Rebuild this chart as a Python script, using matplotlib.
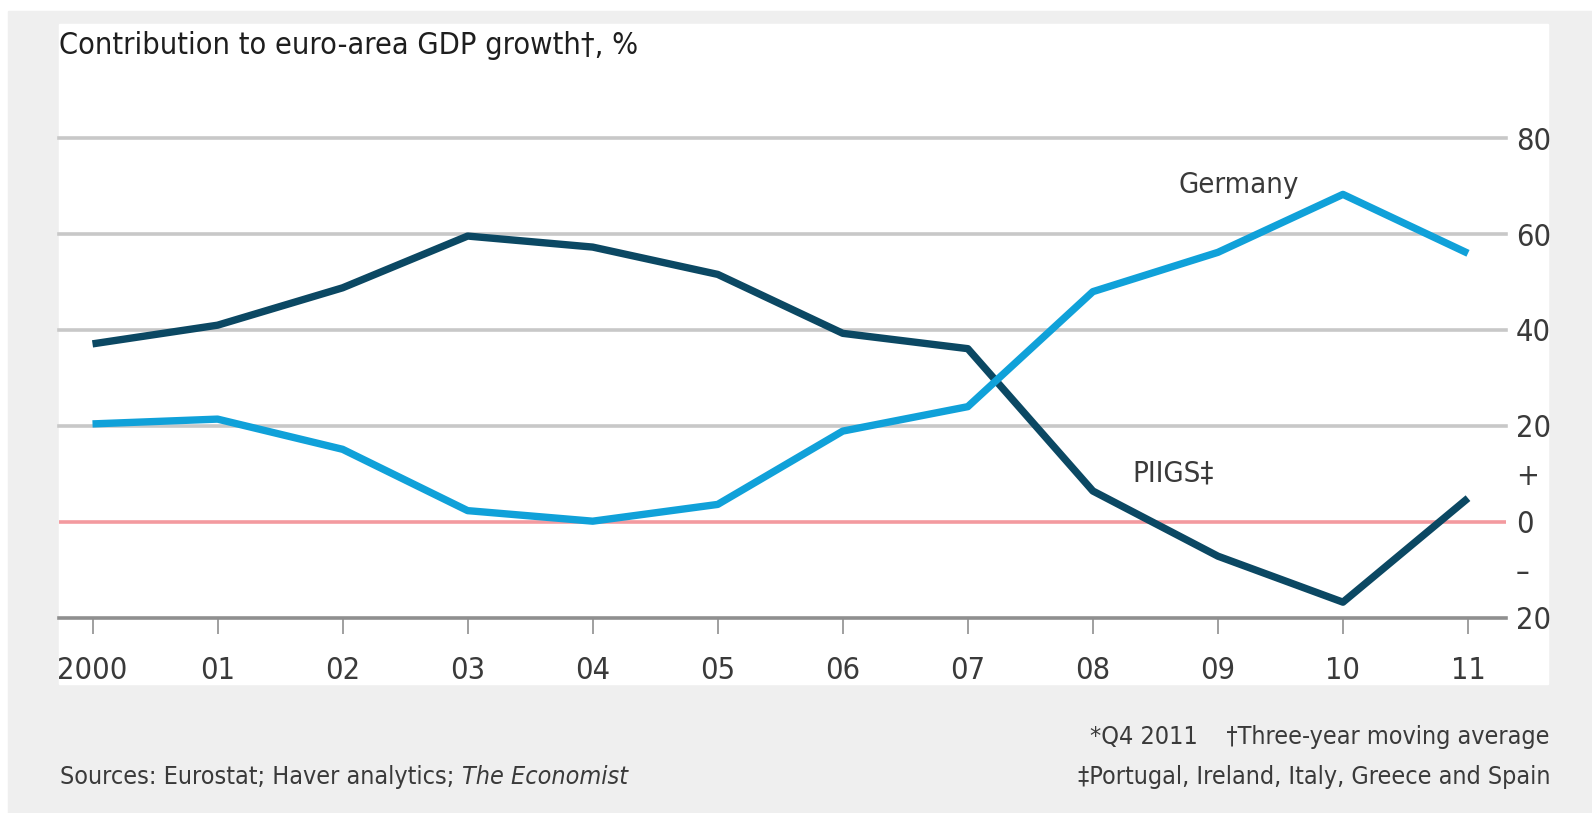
import matplotlib.pyplot as plt
from matplotlib.patches import Rectangle

plt.rcParams['font.family'] = ['DejaVu Sans']
plt.rcParams['font.stretch'] = 'condensed'

years = list(range(2000, 2012))
year_labels = ["2000", "01", "02", "03", "04", "05", "06", "07", "08", "09", "10", "11"]
germany = [20.4, 21.4, 15.1, 2.3, 0.1, 3.6, 18.9, 24.0, 48.0, 56.2, 68.3, 56.0]
piigs = [37.1, 41.0, 48.8, 59.6, 57.3, 51.6, 39.3, 36.1, 6.4, -7.2, -16.8, 4.9]
y_ticks = [-20, -10, 0, 10, 20, 40, 60, 80]
y_labels = ["20", "–", "0", "+", "20", "40", "60", "80"]

W, H = 1592, 813
TXT = "#3a3a3a"
GERMANY_C = "#10a1d9"
PIIGS_C = "#0b4863"

fig = plt.figure(figsize=(W / 100, H / 100), dpi=100, facecolor="white")


def px(x, y):
    # pixel from top-left -> figure fraction
    return x / W, 1 - y / H


# outer grey frame and inner white panel
fig.patches.append(Rectangle(px(8, H), (W - 8) / W, (H - 11) / H,
                             transform=fig.transFigure, color="#efefef", zorder=-2))
fig.patches.append(Rectangle(px(59, 684), (1548 - 59) / W, (684 - 24.5) / H,
                             transform=fig.transFigure, color="white", zorder=-1))

left, right = 59, 1506
top, bottom = 138.3, 617.5
ax = fig.add_axes([left / W, 1 - bottom / H, (right - left) / W, (bottom - top) / H])
ax.set_facecolor("none")
x0 = 2000 - (92.5 - left) / 125
x1 = 2011 + (right - 1468) / 125
ax.set_xlim(x0, x1)
ax.set_ylim(-20, 80)

for v in [20, 40, 60, 80]:
    ax.axhline(v, color="#c8c8c8", lw=2.6, zorder=1, clip_on=False)
ax.axhline(0, color="#f39a9f", lw=2.6, zorder=1)
ax.axhline(-20, color="#8f8f8f", lw=2.6, zorder=1, clip_on=False)

ax.plot(years, piigs, color=PIIGS_C, lw=5.3, zorder=3, clip_on=False, solid_capstyle="butt")
ax.plot(years, germany, color=GERMANY_C, lw=5.3, zorder=3, clip_on=False, solid_capstyle="butt")

for s in ax.spines.values():
    s.set_visible(False)

ax.set_xticks(years)
ax.set_xticklabels(year_labels)
ax.tick_params(axis="x", direction="out", length=11.5, width=1.2, color="#8f8f8f",
               pad=16, labelsize=22, labelcolor=TXT)

ax.yaxis.tick_right()
ax.set_yticks(y_ticks)
ax.set_yticklabels(y_labels)
ax.tick_params(axis="y", length=0, pad=7, labelsize=22, labelcolor=TXT)

ax.text(2009.17, 70.3, "Germany", ha="center", va="center", fontsize=21, color=TXT)
ax.text(2008.64, 10.0, "PIIGS‡", ha="center", va="center", fontsize=21, color=TXT)

fig.text(*px(59, 45), "Contribution to euro-area GDP growth†, %", ha="left", va="center",
         fontsize=22, color="#1e1e1e")

fig.text(*px(1550, 737), "*Q4 2011    †Three-year moving average", ha="right", va="center",
         fontsize=18, color=TXT)
fig.text(*px(1550, 777), "‡Portugal, Ireland, Italy, Greece and Spain", ha="right", va="center",
         fontsize=18, color=TXT)
src = fig.text(*px(60, 777), "Sources: Eurostat; Haver analytics; ", ha="left", va="center",
               fontsize=18, color=TXT)
ax.annotate("The Economist", xy=(1, 0.5), xycoords=src, ha="left", va="center",
            fontsize=18, color=TXT, style="italic", annotation_clip=False)

fig.savefig("out.png", dpi=100, facecolor=fig.get_facecolor())
